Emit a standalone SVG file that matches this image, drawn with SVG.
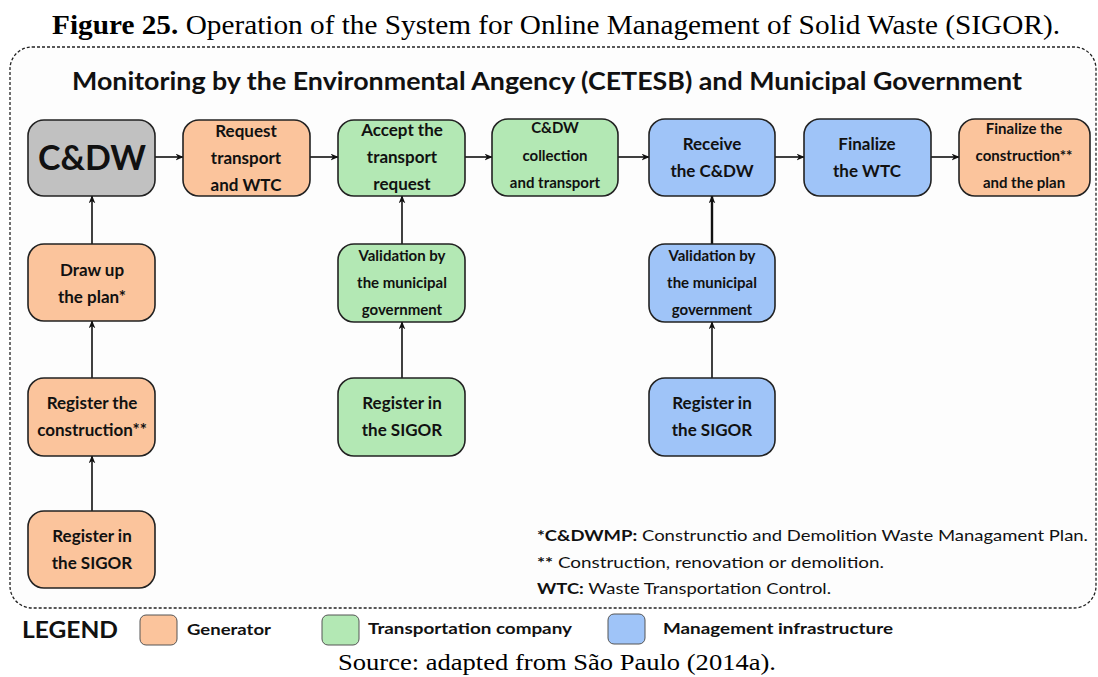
<svg xmlns="http://www.w3.org/2000/svg" width="1098" height="677" viewBox="0 0 1098 677">
  <style>
    .caption { font-family: "Liberation Serif", "Times New Roman", serif; fill: #000; }
    .sans { font-family: Lato, "Open Sans", "Liberation Sans", sans-serif; fill: #111; }
    .node rect { stroke: #222; stroke-width: 1.6; }
    .gen { fill: #fbc49c; }
    .trans { fill: #b3e8b4; }
    .mgmt { fill: #9fc4f8; }
    .waste { fill: #c1c1c1; }
    .label { font-family: Lato, "Open Sans", "Liberation Sans", sans-serif; font-weight: bold; font-size: 17px; text-anchor: middle; fill: #111; }
    .small { font-size: 15px; }
    .big { font-size: 34px; }
    .connectors line { stroke: #111; stroke-width: 1.6; marker-end: url(#arrow); }
  </style>
  <defs>
    <marker id="arrow" viewBox="0 0 12 10" refX="11" refY="5" markerWidth="8" markerHeight="7" orient="auto" markerUnits="userSpaceOnUse">
      <path d="M0,0 L12,5 L0,10 L3.5,5 z" fill="#111"/>
    </marker>
  </defs>

  <rect width="1098" height="677" fill="#fff"/>

  <!-- caption -->
  <text class="caption" x="52" y="34" font-size="27" textLength="1008" lengthAdjust="spacingAndGlyphs"><tspan font-weight="bold">Figure 25.</tspan> Operation of the System for Online Management of Solid Waste (SIGOR).</text>

  <!-- dashed frame -->
  <rect x="10" y="47" width="1086" height="561" rx="22" ry="22" fill="#fdfdfd" stroke="#222" stroke-width="1.3" stroke-dasharray="3,2"/>

  <text class="sans" x="72" y="90" font-size="25" font-weight="bold" textLength="950" lengthAdjust="spacingAndGlyphs">Monitoring by the Environmental Angency (CETESB) and Municipal Government</text>

  <!-- connectors -->
  <g id="connectors" class="connectors">
    <line x1="155" y1="157" x2="183" y2="157"/>
    <line x1="310" y1="157" x2="338" y2="157"/>
    <line x1="465" y1="157" x2="492" y2="157"/>
    <line x1="618" y1="157" x2="649" y2="157"/>
    <line x1="775" y1="157" x2="804" y2="157"/>
    <line x1="931" y1="157" x2="959" y2="157"/>
    <line x1="92" y1="244" x2="92" y2="196"/>
    <line x1="92" y1="378" x2="92" y2="321"/>
    <line x1="92" y1="511" x2="92" y2="456"/>
    <line x1="402" y1="244" x2="402" y2="196"/>
    <line x1="402" y1="378" x2="402" y2="322"/>
    <line x1="712" y1="244" x2="712" y2="196" style="stroke-width:2.4"/>
    <line x1="712" y1="378" x2="712" y2="322"/>
  </g>

  <!-- top row -->
  <g id="cdw" class="node">
    <rect class="waste" x="28" y="120" width="127" height="76" rx="16"/>
    <text class="label big" x="92" y="170">C&amp;DW</text>
  </g>
  <g id="request-transport" class="node">
    <rect class="gen" x="183" y="120" width="127" height="76" rx="16"/>
    <text class="label" x="246" y="137">Request</text>
    <text class="label" x="246" y="164">transport</text>
    <text class="label" x="246" y="191">and WTC</text>
  </g>
  <g id="accept-request" class="node">
    <rect class="trans" x="338" y="120" width="127" height="76" rx="16"/>
    <text class="label" x="402" y="136">Accept the</text>
    <text class="label" x="402" y="163">transport</text>
    <text class="label" x="402" y="190">request</text>
  </g>
  <g id="collection" class="node">
    <rect class="trans" x="492" y="119" width="126" height="77" rx="16"/>
    <text class="label small" x="555" y="133">C&amp;DW</text>
    <text class="label small" x="555" y="161">collection</text>
    <text class="label small" x="555" y="188">and transport</text>
  </g>
  <g id="receive" class="node">
    <rect class="mgmt" x="649" y="119" width="126" height="77" rx="16"/>
    <text class="label" x="712" y="150">Receive</text>
    <text class="label" x="712" y="177">the C&amp;DW</text>
  </g>
  <g id="finalize-wtc" class="node">
    <rect class="mgmt" x="804" y="119" width="127" height="77" rx="16"/>
    <text class="label" x="867" y="150">Finalize</text>
    <text class="label" x="867" y="177">the WTC</text>
  </g>
  <g id="finalize-construction" class="node">
    <rect class="gen" x="959" y="119" width="131" height="77" rx="16"/>
    <text class="label small" x="1024" y="134">Finalize the</text>
    <text class="label small" x="1024" y="161">construction**</text>
    <text class="label small" x="1024" y="188">and the plan</text>
  </g>

  <!-- generator column -->
  <g id="draw-plan" class="node">
    <rect class="gen" x="28" y="244" width="127" height="77" rx="16"/>
    <text class="label" x="92" y="276">Draw up</text>
    <text class="label" x="92" y="303">the plan*</text>
  </g>
  <g id="register-construction" class="node">
    <rect class="gen" x="28" y="378" width="127" height="78" rx="16"/>
    <text class="label" x="92" y="409">Register the</text>
    <text class="label" x="92" y="436">construction**</text>
  </g>
  <g id="register-sigor-gen" class="node">
    <rect class="gen" x="28" y="511" width="127" height="77" rx="16"/>
    <text class="label" x="92" y="542">Register in</text>
    <text class="label" x="92" y="569">the SIGOR</text>
  </g>

  <!-- transport column -->
  <g id="validation-trans" class="node">
    <rect class="trans" x="338" y="244" width="127" height="78" rx="16"/>
    <text class="label small" x="402" y="261">Validation by</text>
    <text class="label small" x="402" y="288">the municipal</text>
    <text class="label small" x="402" y="315">government</text>
  </g>
  <g id="register-sigor-trans" class="node">
    <rect class="trans" x="338" y="378" width="127" height="78" rx="16"/>
    <text class="label" x="402" y="409">Register in</text>
    <text class="label" x="402" y="436">the SIGOR</text>
  </g>

  <!-- management column -->
  <g id="validation-mgmt" class="node">
    <rect class="mgmt" x="649" y="244" width="126" height="78" rx="16"/>
    <text class="label small" x="712" y="261">Validation by</text>
    <text class="label small" x="712" y="288">the municipal</text>
    <text class="label small" x="712" y="315">government</text>
  </g>
  <g id="register-sigor-mgmt" class="node">
    <rect class="mgmt" x="649" y="378" width="126" height="78" rx="16"/>
    <text class="label" x="712" y="409">Register in</text>
    <text class="label" x="712" y="436">the SIGOR</text>
  </g>

  <!-- notes -->
  <g id="notes" class="sans" font-size="16">
    <text x="537" y="541" textLength="551" lengthAdjust="spacingAndGlyphs"><tspan font-weight="bold">*C&amp;DWMP:</tspan> Construnctio and Demolition Waste Managament Plan.</text>
    <text x="537" y="568" textLength="347" lengthAdjust="spacingAndGlyphs"><tspan font-weight="bold">**</tspan> Construction, renovation or demolition.</text>
    <text x="537" y="594" textLength="294" lengthAdjust="spacingAndGlyphs"><tspan font-weight="bold">WTC:</tspan> Waste Transportation Control.</text>
  </g>

  <!-- legend -->
  <g id="legend" class="sans">
    <text x="22" y="638" font-size="22" font-weight="bold" textLength="96" lengthAdjust="spacingAndGlyphs">LEGEND</text>
    <rect class="gen" x="140" y="615" width="37" height="30" rx="6" stroke="#555" stroke-width="1"/>
    <text x="187" y="635" font-size="16" font-weight="bold" textLength="84" lengthAdjust="spacingAndGlyphs">Generator</text>
    <rect class="trans" x="322" y="615" width="37" height="30" rx="6" stroke="#555" stroke-width="1"/>
    <text x="368" y="634" font-size="16" font-weight="bold" textLength="204" lengthAdjust="spacingAndGlyphs">Transportation company</text>
    <rect class="mgmt" x="608" y="614" width="37" height="30" rx="6" stroke="#555" stroke-width="1"/>
    <text x="663" y="634" font-size="16" font-weight="bold" textLength="230" lengthAdjust="spacingAndGlyphs">Management infrastructure</text>
  </g>

  <text class="caption" x="338" y="670" font-size="24" textLength="438" lengthAdjust="spacingAndGlyphs">Source: adapted from São Paulo (2014a).</text>
</svg>
